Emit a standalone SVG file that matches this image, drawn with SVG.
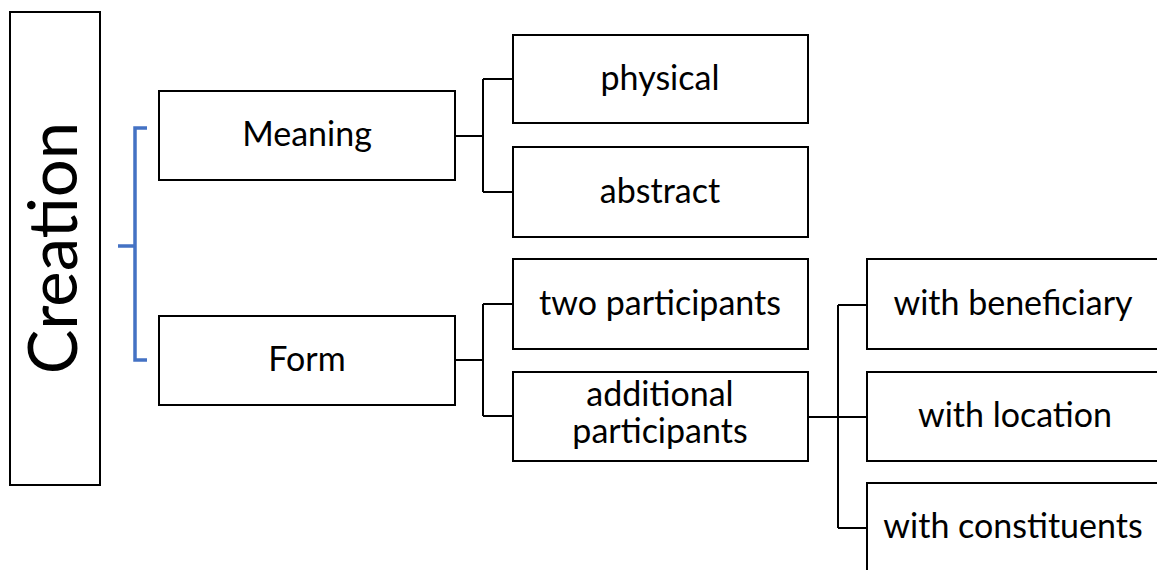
<svg xmlns="http://www.w3.org/2000/svg" width="1157" height="570" viewBox="0 0 1157 570">
<style>
.box{fill:#fff;stroke:#000;stroke-width:2}
.t{font-family:Lato,"Liberation Sans",sans-serif;font-size:34px;fill:#000;text-anchor:middle}
.c{fill:none;stroke:#000;stroke-width:2}
</style>
<rect width="1157" height="570" fill="#fff"/>
<g id="creation"><rect class="box" x="10" y="12" width="90" height="473"/>
<text class="t" style="font-size:67px" transform="translate(77,248) rotate(-90)">Creation</text></g>
<g id="bracket"><path d="M147,128 H135 V360 H147 M135,246 H118" fill="none" stroke="#4472C4" stroke-width="3.5"/></g>
<g id="connectors">
<path class="c" d="M455,136 H483 M483,79 V192 M483,79 H513 M483,192 H513"/>
<path class="c" d="M455,360 H483 M483,304 V416 M483,304 H513 M483,416 H513"/>
<path class="c" d="M808,417 H867 M838,305 V528 M838,305 H867 M838,528 H867"/>
</g>
<g id="meaning"><rect class="box" x="159" y="91" width="296" height="89"/><text class="t" x="307" y="146">Meaning</text></g>
<g id="form"><rect class="box" x="159" y="316" width="296" height="89"/><text class="t" x="307" y="371">Form</text></g>
<g id="physical"><rect class="box" x="513" y="35" width="295" height="88"/><text class="t" x="660" y="90">physical</text></g>
<g id="abstract"><rect class="box" x="513" y="147" width="295" height="90"/><text class="t" x="660" y="203">abstract</text></g>
<g id="two"><rect class="box" x="513" y="259" width="295" height="90"/><text class="t" x="660" y="315">two participants</text></g>
<g id="additional"><rect class="box" x="513" y="372" width="295" height="89"/><text class="t" x="660" y="406">additional</text><text class="t" x="660" y="443">participants</text></g>
<g id="beneficiary"><rect class="box" x="867" y="259" width="294" height="90"/><text class="t" x="1013" y="315">with beneficiary</text></g>
<g id="location"><rect class="box" x="867" y="372" width="294" height="89"/><text class="t" x="1015" y="427">with location</text></g>
<g id="constituents"><rect class="box" x="867" y="483" width="294" height="95"/><text class="t" x="1013" y="538">with constituents</text></g>
</svg>
